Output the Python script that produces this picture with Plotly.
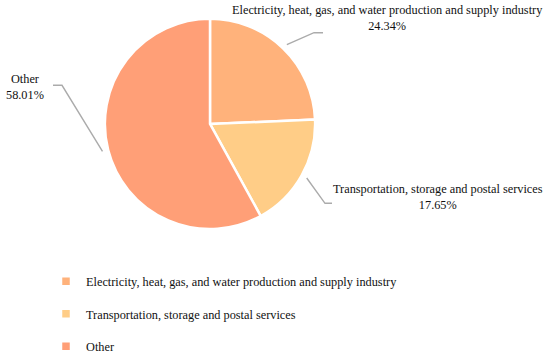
import math
import plotly.graph_objects as go

# ---- data ----
categories = [
    "Electricity, heat, gas, and water production and supply industry",
    "Transportation, storage and postal services",
    "Other",
]
shares = [24.34, 17.65, 58.01]
colors = ["#FFB27B", "#FFCD87", "#FF9F77"]

# ---- layout constants (pixels in a 550x361 canvas) ----
W, H = 550, 361
CX, CY, R = 210, 125, 106
elbows = [(314, 33), (325, 205), (62, 86)]
ends = [(323, 33), (332, 205), (53, 86)]
label_pos = [(387, 18.5), (438, 198.5), (25, 87.5)]

def px(x):
    return x / W

def py(y):
    return 1 - y / H

FONT = "Liberation Serif, Times New Roman, serif"
FS = 12.3

fig = go.Figure()
fig.add_trace(go.Pie(
    labels=categories,
    values=shares,
    sort=False,
    direction="clockwise",
    rotation=0,
    marker=dict(colors=colors, line=dict(color="white", width=2.5)),
    textinfo="none",
    hoverinfo="label+percent",
    showlegend=False,
    domain=dict(x=[px(CX - R), px(CX + R)], y=[py(CY + R), py(CY - R)]),
))

# legend entries (one group each so spacing can be controlled)
for cat, col in zip(categories, colors):
    fig.add_trace(go.Scatter(
        x=[None], y=[None], mode="markers", name=cat, legendgroup=cat,
        marker=dict(symbol="square", size=7.5, color=col),
        hoverinfo="skip",
    ))

shapes = []
annotations = []
total = sum(shares)
cum = 0.0
for i, (cat, v) in enumerate(zip(categories, shares)):
    mid = (cum + v / 2) / total * 2 * math.pi
    cum += v
    sx = CX + (R + 5) * math.sin(mid)
    sy = CY - (R + 5) * math.cos(mid)
    ex, ey = elbows[i]
    fx, fy = ends[i]
    path = f"M {px(sx)},{py(sy)} L {px(ex)},{py(ey)} L {px(fx)},{py(fy)}"
    shapes.append(dict(type="path", xref="paper", yref="paper", path=path,
                       line=dict(color="#ABABAB", width=1.4)))
    lx, ly = label_pos[i]
    annotations.append(dict(
        x=px(lx), y=py(ly), xref="paper", yref="paper",
        xanchor="center", yanchor="middle", showarrow=False,
        text=f"{cat}<br>{v:.2f}%", align="center",
        font=dict(family=FONT, size=FS, color="#111111"),
    ))

fig.update_layout(
    width=W, height=H,
    margin=dict(l=0, r=0, t=0, b=0),
    paper_bgcolor="white",
    plot_bgcolor="white",
    xaxis=dict(visible=False),
    yaxis=dict(visible=False),
    shapes=shapes,
    annotations=annotations,
    showlegend=True,
    legend=dict(
        x=px(46), y=py(269), xanchor="left", yanchor="top",
        orientation="v", traceorder="grouped", tracegroupgap=13.5,
        font=dict(family=FONT, size=FS, color="#111111"),
        bgcolor="rgba(0,0,0,0)",
    ),
)

fig.write_html("out.html", config={"displayModeBar": False},
               post_script="document.body.style.margin='0';")
